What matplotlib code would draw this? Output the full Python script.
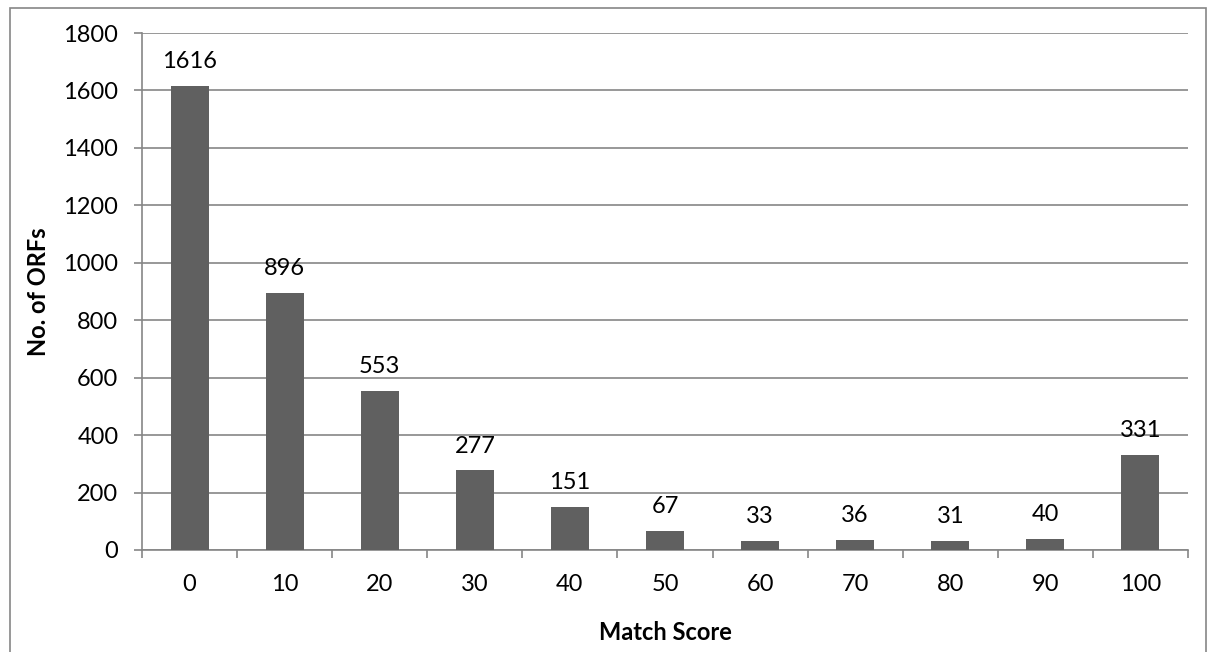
import matplotlib
matplotlib.use("Agg")
import matplotlib.pyplot as plt
from matplotlib.patches import Rectangle

# match-score bins and ORF counts
scores = ["0", "10", "20", "30", "40", "50", "60", "70", "80", "90", "100"]
counts = [1616, 896, 553, 277, 151, 67, 33, 36, 31, 40, 331]
yticks = [0, 200, 400, 600, 800, 1000, 1200, 1400, 1600, 1800]

plt.rcParams["font.family"] = ["Lato", "DejaVu Sans"]
GRID = "#868686"
BAR = "#606060"
FS = 17

W, H = 1208, 652
fig = plt.figure(figsize=(W / 100, H / 100), dpi=100)
ax = fig.add_axes([142 / W, 1 - 550 / H, (1188 - 142) / W, (550 - 33) / H])

# outer chart border (runs off the bottom edge)
fig.patches.append(Rectangle((10 / W, -0.05), (1206 - 10) / W, 1.05 - 8 / H,
                             transform=fig.transFigure, fill=False,
                             edgecolor=GRID, lw=1.2))

x = range(len(scores))
ax.bar(x, counts, width=0.4, color=BAR, zorder=3)
for xi, c in zip(x, counts):
    ax.annotate(str(c), (xi, c), xytext=(0, 10), textcoords="offset points",
                ha="center", va="bottom", fontsize=FS)

ax.set_xlim(-0.5, len(scores) - 0.5)
ax.set_ylim(0, 1800)
ax.set_yticks(yticks)
ax.set_yticklabels([str(t) for t in yticks], fontsize=FS)
ax.set_xticks(list(x))
ax.set_xticklabels(scores, fontsize=FS)
ax.set_xticks([i - 0.5 for i in range(len(scores) + 1)], minor=True)
ax.tick_params(axis="x", which="major", length=0, pad=17)
ax.tick_params(axis="x", which="minor", length=6, color=GRID, width=1.2)
ax.tick_params(axis="y", length=6, color=GRID, width=1.2, pad=11)

ax.yaxis.grid(True, color=GRID, lw=1.2, zorder=0)
for s in ["top", "right"]:
    ax.spines[s].set_visible(False)
for s in ["left", "bottom"]:
    ax.spines[s].set_color(GRID)
    ax.spines[s].set_linewidth(1.2)

ax.set_ylabel("No. of ORFs", fontsize=FS, fontweight="bold", labelpad=10)
ax.set_xlabel("Match Score", fontsize=FS, fontweight="bold", labelpad=19)

fig.savefig("out.png", dpi=100)
